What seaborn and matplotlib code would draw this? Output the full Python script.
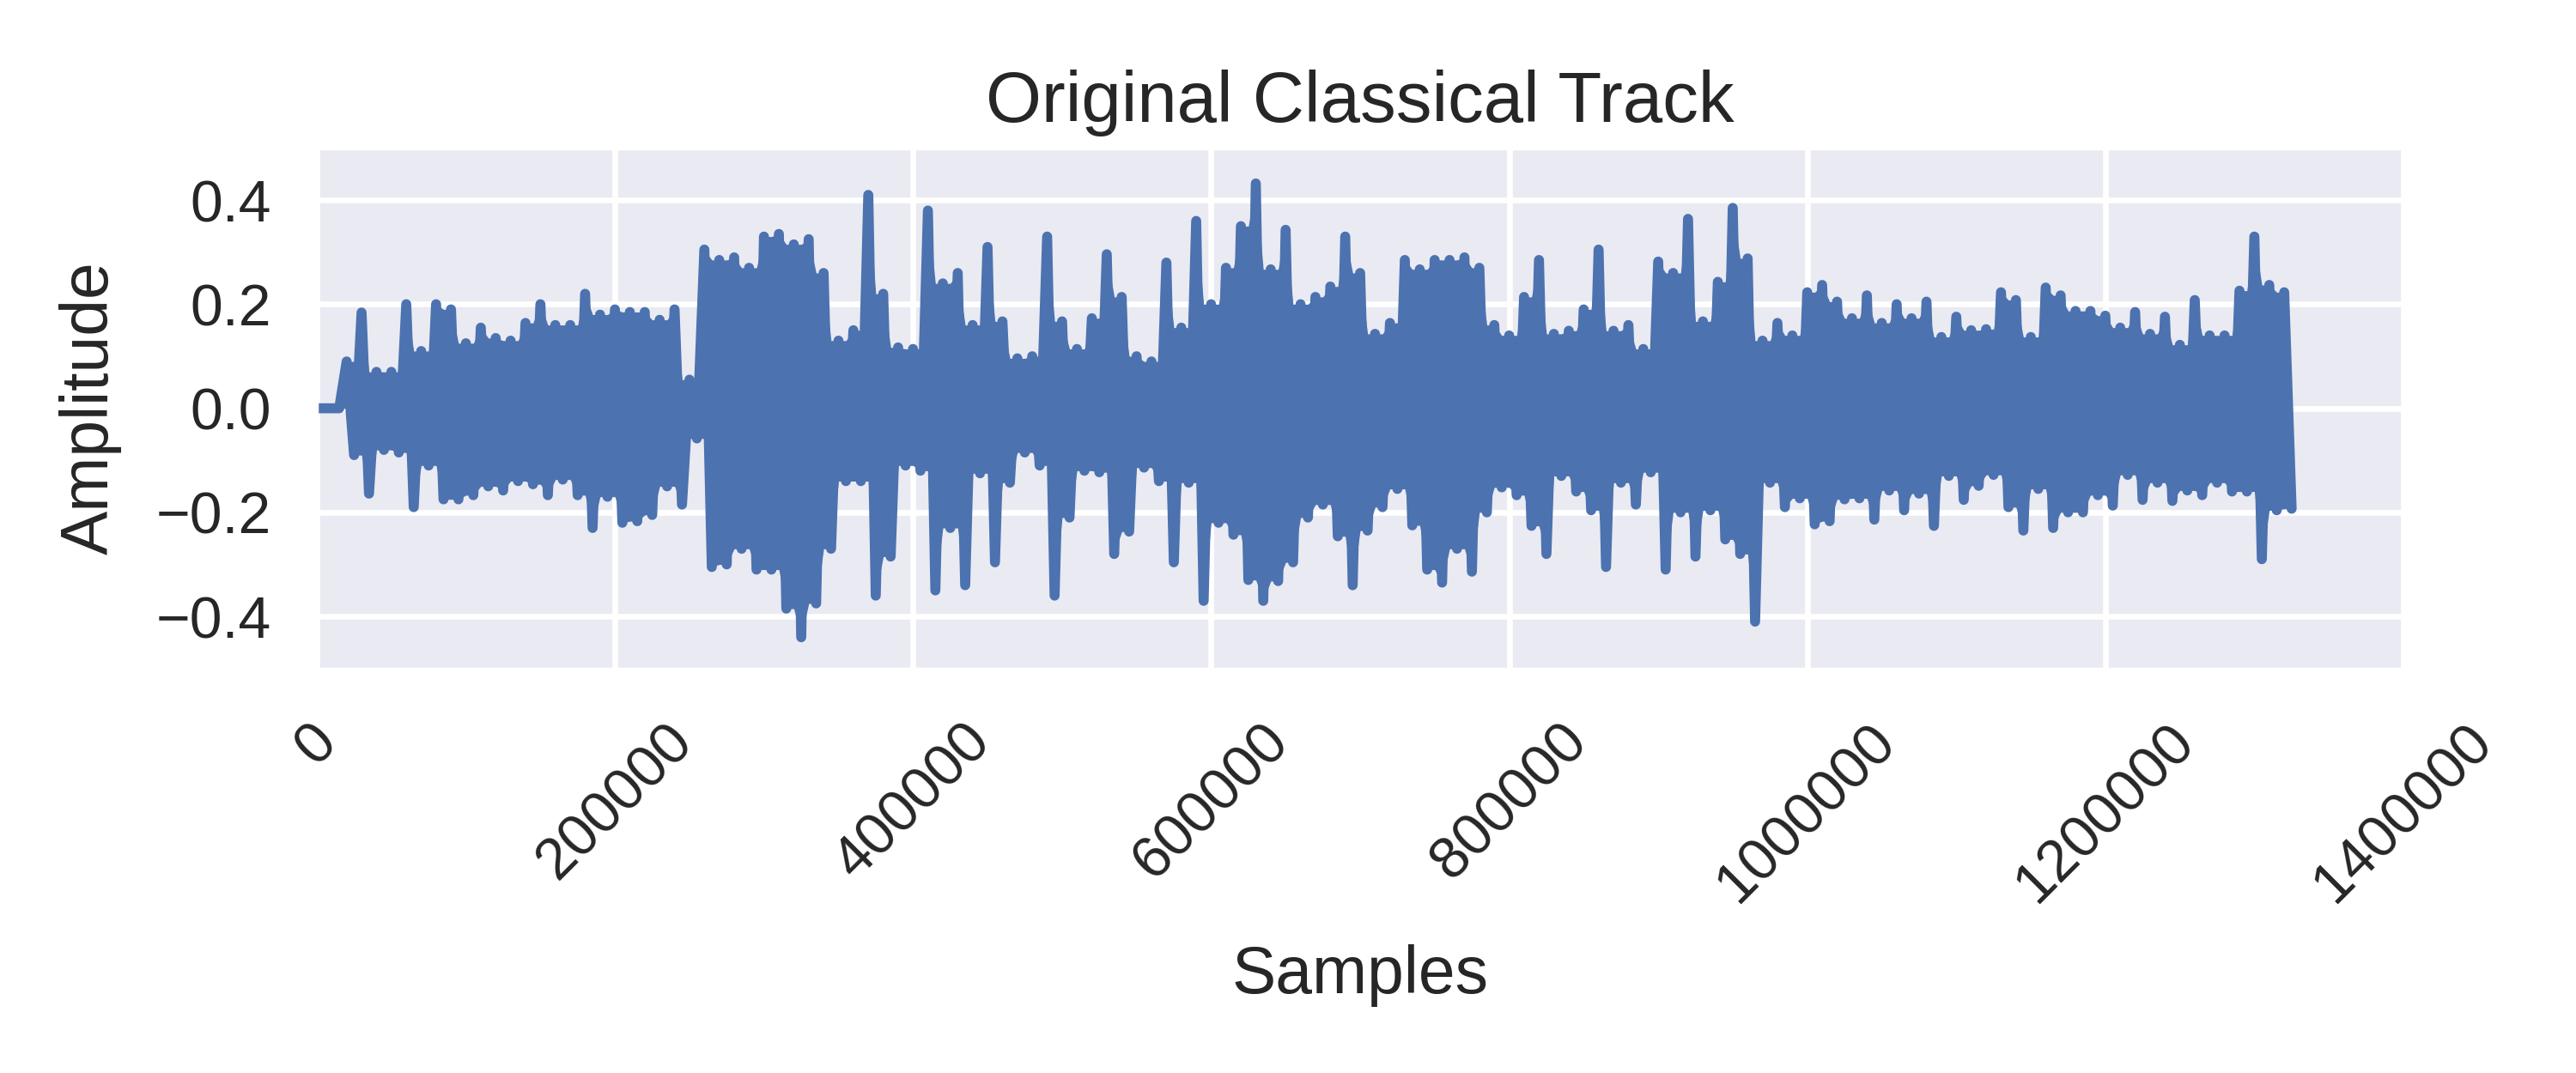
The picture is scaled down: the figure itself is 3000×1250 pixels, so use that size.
import matplotlib
matplotlib.use("Agg")
import matplotlib.pyplot as plt
import seaborn as sns

# ---- data (envelope peaks every 10000 samples) ----
sample_step = 10000
peak_samples = list(range(0, 1330000, sample_step))  # 0 .. 1,320,000

upper_peaks = [
    0.0, 0.0, 0.09, 0.184, 0.07, 0.07, 0.20, 0.11, 0.20, 0.19,
    0.125, 0.155, 0.135, 0.13, 0.164, 0.20, 0.16, 0.16, 0.22, 0.18,
    0.19, 0.185, 0.185, 0.17, 0.19, 0.055, 0.305, 0.285, 0.29, 0.27,
    0.33, 0.335, 0.315, 0.325, 0.26, 0.13, 0.15, 0.41, 0.22, 0.117,
    0.114, 0.38, 0.24, 0.26, 0.16, 0.31, 0.167, 0.096, 0.10, 0.33,
    0.167, 0.114, 0.173, 0.296, 0.214, 0.10, 0.09, 0.28, 0.155, 0.36,
    0.20, 0.27, 0.35, 0.432, 0.267, 0.343, 0.20, 0.214, 0.234, 0.33,
    0.26, 0.143, 0.164, 0.285, 0.267, 0.285, 0.285, 0.29, 0.27, 0.16,
    0.14, 0.214, 0.285, 0.143, 0.149, 0.19, 0.305, 0.149, 0.16, 0.114,
    0.282, 0.26, 0.364, 0.167, 0.243, 0.385, 0.288, 0.13, 0.164, 0.14,
    0.223, 0.237, 0.205, 0.173, 0.217, 0.164, 0.20, 0.173, 0.205, 0.137,
    0.176, 0.15, 0.152, 0.223, 0.208, 0.137, 0.232, 0.217, 0.187, 0.187,
    0.178, 0.155, 0.185, 0.143, 0.176, 0.122, 0.208, 0.14, 0.14, 0.226,
    0.33, 0.237, 0.223,
]

lower_peaks = [
    0.0, 0.0, -0.09, -0.164, -0.08, -0.085, -0.19, -0.11, -0.175, -0.175,
    -0.167, -0.15, -0.158, -0.14, -0.146, -0.167, -0.137, -0.167, -0.23, -0.17,
    -0.22, -0.217, -0.205, -0.15, -0.185, -0.058, -0.305, -0.30, -0.27, -0.31,
    -0.31, -0.385, -0.44, -0.375, -0.27, -0.14, -0.14, -0.36, -0.285, -0.11,
    -0.12, -0.35, -0.23, -0.34, -0.125, -0.296, -0.143, -0.085, -0.11, -0.36,
    -0.21, -0.12, -0.123, -0.28, -0.237, -0.114, -0.14, -0.296, -0.143, -0.37,
    -0.22, -0.243, -0.33, -0.37, -0.332, -0.296, -0.21, -0.185, -0.246, -0.34,
    -0.235, -0.19, -0.155, -0.225, -0.31, -0.335, -0.27, -0.314, -0.20, -0.152,
    -0.167, -0.226, -0.28, -0.13, -0.16, -0.196, -0.305, -0.143, -0.185, -0.123,
    -0.31, -0.20, -0.285, -0.196, -0.252, -0.28, -0.41, -0.143, -0.19, -0.173,
    -0.223, -0.217, -0.175, -0.173, -0.214, -0.158, -0.196, -0.164, -0.226, -0.13,
    -0.176, -0.149, -0.128, -0.19, -0.235, -0.155, -0.23, -0.20, -0.20, -0.167,
    -0.187, -0.128, -0.176, -0.143, -0.178, -0.158, -0.167, -0.143, -0.16, -0.16,
    -0.29, -0.196, -0.193,
]

x_ticks = [0, 200000, 400000, 600000, 800000, 1000000, 1200000, 1400000]
y_ticks = [-0.4, -0.2, 0.0, 0.2, 0.4]
title = "Original Classical Track"
x_label = "Samples"
y_label = "Amplitude"

WAVE_COLOR = "#4C72B0"
half = sample_step / 2

# ---- waveform trace: alternate upper / lower peaks ----
wave_x, wave_y = [], []
for s, u, l in zip(peak_samples, upper_peaks, lower_peaks):
    wave_x += [s, s + half]
    wave_y += [u, l]

# solid body of the waveform: peaks with notches at the lower neighbour
body_up_x, body_up_y, body_lo_x, body_lo_y = [], [], [], []
n = len(peak_samples)
for i in range(n):
    s = peak_samples[i]
    body_up_x.append(s)
    body_up_y.append(upper_peaks[i])
    body_lo_x.append(s + half)
    body_lo_y.append(lower_peaks[i])
    if i + 1 < n:
        body_up_x.append(s + half)
        body_up_y.append(min(upper_peaks[i], upper_peaks[i + 1]))
        body_lo_x.append(s + sample_step)
        body_lo_y.append(max(lower_peaks[i], lower_peaks[i + 1]))

# ---- style ----
sns.set_theme(style="darkgrid")
plt.rcParams["font.family"] = ["Liberation Sans", "DejaVu Sans"]
plt.rcParams["text.color"] = "#262626"
plt.rcParams["axes.labelcolor"] = "#262626"
plt.rcParams["xtick.color"] = "#262626"
plt.rcParams["ytick.color"] = "#262626"
plt.rcParams["grid.linewidth"] = 2.4

fig = plt.figure(figsize=(15, 6.25), dpi=200)
ax = fig.add_axes([0.123, 0.377, 0.810, 0.485])

ax.fill_between(body_up_x, 0, body_up_y, color=WAVE_COLOR, linewidth=0)
ax.fill_between(body_lo_x, body_lo_y, 0, color=WAVE_COLOR, linewidth=0)
sns.lineplot(x=wave_x, y=wave_y, sort=False, estimator=None, ax=ax,
             color=WAVE_COLOR, linewidth=4.2)
for line in ax.get_lines():
    line.set_solid_joinstyle("round")
    line.set_solid_capstyle("round")

ax.set_xlim(0, 1400000)
ax.set_ylim(-0.5, 0.5)
ax.set_xticks(x_ticks)
ax.set_xticklabels([str(t) for t in x_ticks], rotation=45)
ax.set_yticks(y_ticks)
ax.set_yticklabels([f"{t:.1f}".replace("-", "\u2212") for t in y_ticks])
ax.tick_params(axis="both", labelsize=24.5, pad=19, length=0)

ax.set_title(title, fontsize=30, pad=11)
ax.set_xlabel(x_label, fontsize=27.7, labelpad=13)
ax.set_ylabel(y_label, fontsize=27.7, labelpad=14.5)

fig.savefig("out.png", dpi=200)
